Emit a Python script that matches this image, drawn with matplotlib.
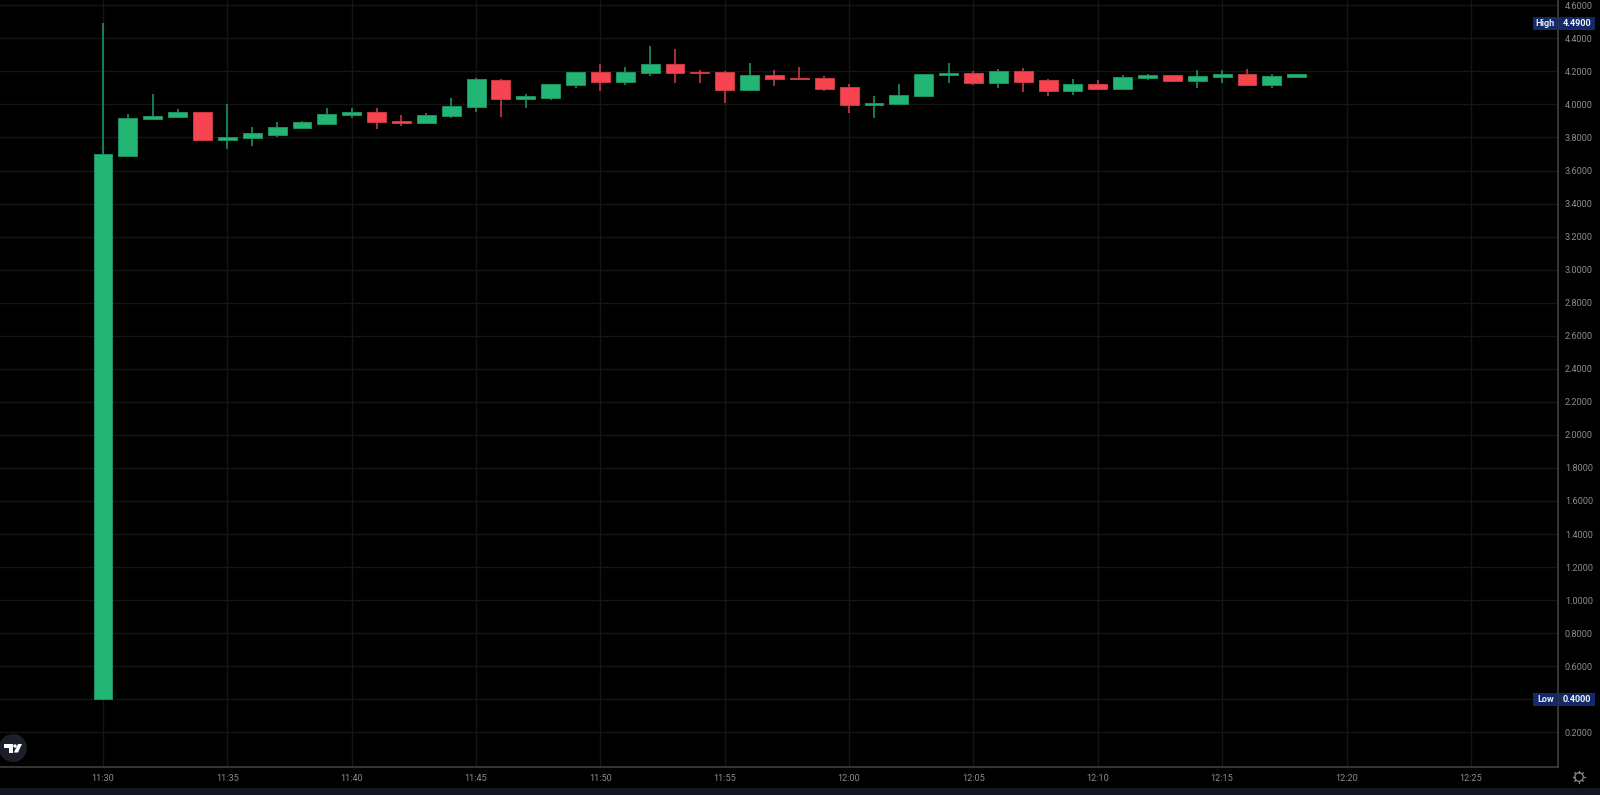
import matplotlib
matplotlib.use('Agg')
import matplotlib.pyplot as plt
from matplotlib.patches import Circle, Polygon, Rectangle

# one candle per minute starting at 11:30
opens = [0.40, 3.69, 3.913, 3.923, 3.952, 3.786, 3.796, 3.817, 3.857, 3.881,
         3.933, 3.952, 3.899, 3.887, 3.929, 3.984, 4.149, 4.03, 4.04, 4.117,
         4.196, 4.137, 4.188, 4.242, 4.196, 4.196, 4.087, 4.18, 4.16, 4.16,
         4.103, 3.996, 4.0, 4.05, 4.179, 4.19, 4.127, 4.2, 4.145, 4.083,
         4.123, 4.095, 4.157, 4.18, 4.143, 4.163, 4.183, 4.119, 4.163]
highs = [4.49, 3.94, 4.06, 3.972, 3.952, 4.0, 3.865, 3.895, 3.897, 3.978,
         3.978, 3.978, 3.935, 3.948, 4.038, 4.159, 4.153, 4.063, 4.123, 4.196,
         4.242, 4.226, 4.354, 4.335, 4.208, 4.2, 4.25, 4.208, 4.226, 4.172,
         4.123, 4.048, 4.123, 4.183, 4.25, 4.2, 4.214, 4.22, 4.151, 4.153,
         4.145, 4.175, 4.183, 4.18, 4.206, 4.206, 4.214, 4.183, 4.183]
lows = [0.40, 3.68, 3.903, 3.919, 3.776, 3.73, 3.75, 3.802, 3.853, 3.873,
        3.919, 3.853, 3.869, 3.881, 3.919, 3.956, 3.923, 3.978, 4.026, 4.099,
        4.08, 4.117, 4.172, 4.131, 4.131, 4.01, 4.087, 4.113, 4.154, 4.083,
        3.95, 3.917, 4.0, 4.05, 4.127, 4.117, 4.10, 4.077, 4.052, 4.056,
        4.087, 4.095, 4.147, 4.135, 4.099, 4.127, 4.117, 4.10, 4.163]
closes = [3.70, 3.92, 3.929, 3.952, 3.786, 3.802, 3.825, 3.865, 3.891, 3.942,
          3.952, 3.893, 3.887, 3.935, 3.99, 4.151, 4.03, 4.048, 4.123, 4.196,
          4.137, 4.196, 4.242, 4.188, 4.188, 4.087, 4.18, 4.154, 4.154, 4.095,
          3.996, 4.006, 4.056, 4.183, 4.19, 4.127, 4.2, 4.137, 4.083, 4.123,
          4.095, 4.165, 4.18, 4.143, 4.169, 4.183, 4.117, 4.169, 4.183]

time_ticks = [0, 5, 10, 15, 20, 25, 30, 35, 40, 45, 50, 55]
time_labels = ['11:30', '11:35', '11:40', '11:45', '11:50', '11:55',
               '12:00', '12:05', '12:10', '12:15', '12:20', '12:25']
price_ticks = [0.2, 0.4, 0.6, 0.8, 1.0, 1.2, 1.4, 1.6, 1.8, 2.0, 2.2, 2.4,
               2.6, 2.8, 3.0, 3.2, 3.4, 3.6, 3.8, 4.0, 4.2, 4.4, 4.6]
high_price = 4.49
low_price = 0.40

GREEN = '#22b573'
GREEN_EDGE = '#1c9160'
RED = '#f64550'
RED_EDGE = '#c93a44'
GRID = '#151515'
TEXT = '#8c8c8c'
NAVY = '#12296b'

plt.rcParams['font.family'] = ['Roboto', 'DejaVu Sans']

W, H = 1600, 795
AX_W, AX_H = 1558, 766.7
fig = plt.figure(figsize=(W / 100, H / 100), dpi=100, facecolor='black')
ax = fig.add_axes([0, 1 - AX_H / H, AX_W / W, AX_H / H], facecolor='black')

px_per_min = 24.87
ax.set_xlim(-103 / px_per_min, (AX_W - 103) / px_per_min)
ax.set_ylim(4.4 - (AX_H - 38.3) / 165.25, 4.4 + 38.3 / 165.25)

ax.set_xticks(time_ticks)
ax.set_xticklabels(time_labels)
ax.set_yticks(price_ticks)
# the Low tag sits on top of the 0.4000 tick, so that label stays empty
ax.set_yticklabels(['' if p == low_price else '%.4f' % p for p in price_ticks])
ax.yaxis.tick_right()
ax.tick_params(axis='both', length=0, colors=TEXT, labelsize=6.6)
ax.tick_params(axis='x', pad=5)
ax.tick_params(axis='y', pad=5)
ax.grid(True, color=GRID, linewidth=1.0)
ax.set_axisbelow(True)
for side in ['top', 'left']:
    ax.spines[side].set_visible(False)
for side in ['bottom', 'right']:
    ax.spines[side].set_color('#454545')
    ax.spines[side].set_linewidth(1.1)

for i in range(len(opens)):
    up = closes[i] >= opens[i]
    ax.vlines(i, lows[i], highs[i], color=GREEN_EDGE if up else RED_EDGE,
              linewidth=1.2, zorder=2)
    ax.bar(i, abs(closes[i] - opens[i]), bottom=min(opens[i], closes[i]), width=0.76,
           color=GREEN if up else RED, edgecolor=GREEN_EDGE if up else RED_EDGE,
           linewidth=0.7, zorder=3)

# overlay in pixel coords for the logo, the gear and the High/Low tags
over = fig.add_axes([0, 0, 1, 1], facecolor='none')
over.set_xlim(0, W)
over.set_ylim(H, 0)
over.axis('off')


def price_to_py(price):
    return H - ax.transData.transform((0, price))[1]


def price_tag(name, price):
    y = price_to_py(price)
    over.add_patch(Rectangle((1533, y - 6.5), 24.5, 13, color=NAVY, linewidth=0))
    over.add_patch(Rectangle((1558.5, y - 6.5), 36.5, 13, color=NAVY, linewidth=0))
    over.text(1545.5, y, name, color='#e8e8e8', fontsize=6.6, fontweight='bold', ha='center', va='center')
    over.text(1577, y, '%.4f' % price, color='#f2f2f2', fontsize=6.6, fontweight='bold', ha='center', va='center')


price_tag('High', high_price)
price_tag('Low', low_price)

over.add_patch(Rectangle((0, 788), W, 7, color='#131722', linewidth=0))

# tradingview logo
over.add_patch(Circle((13, 748), 14, color='#1c1f29', linewidth=0))
over.add_patch(Polygon([(4, 744), (13, 744), (13, 752.5), (9, 752.5), (9, 747.5), (4, 747.5)],
                       color='white', linewidth=0))
over.add_patch(Circle((15, 746), 1.7, color='white', linewidth=0))
over.add_patch(Polygon([(18, 744), (22, 744), (18, 752.5), (13.8, 752.5)], color='white', linewidth=0))

# settings gear
over.add_patch(Circle((1579, 777), 4.3, fill=False, edgecolor='#8a8a8a', linewidth=0.9))
for dx, dy in [(0, -1), (0.7, -0.7), (1, 0), (0.7, 0.7), (0, 1), (-0.7, 0.7), (-1, 0), (-0.7, -0.7)]:
    over.plot([1579 + dx * 4.5, 1579 + dx * 6], [777 + dy * 4.5, 777 + dy * 6],
              color='#8a8a8a', linewidth=0.9)

fig.savefig('out.png', dpi=100, facecolor='black')
